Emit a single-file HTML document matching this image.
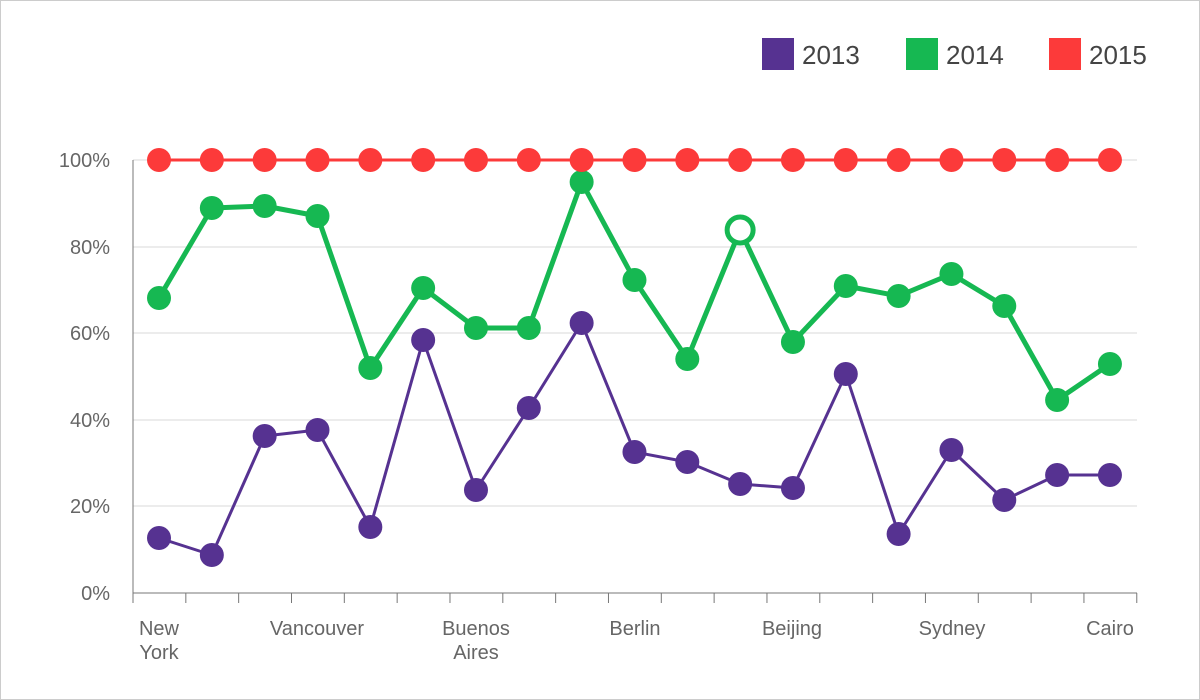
<!DOCTYPE html>
<html><head><meta charset="utf-8"><style>
html,body{margin:0;padding:0;background:#fff}
svg{display:block;font-family:"Liberation Sans",sans-serif}
</style></head><body>
<svg id="s" width="1200" height="700" xmlns="http://www.w3.org/2000/svg">
<rect x="0.5" y="0.5" width="1199" height="699" fill="#fff" stroke="#ccc"/>
<g stroke="#d9d9d9" stroke-width="1">
<line x1="133" x2="1137" y1="160" y2="160"/><line x1="133" x2="1137" y1="247" y2="247"/>
<line x1="133" x2="1137" y1="333" y2="333"/><line x1="133" x2="1137" y1="420" y2="420"/>
<line x1="133" x2="1137" y1="506" y2="506"/>
</g>
<line x1="133" x2="133" y1="160" y2="593" stroke="#777"/>
<line x1="133" x2="1137" y1="593" y2="593" stroke="#777"/>
<g id="ticks" stroke="#777"></g>
<g fill="#666" font-size="20" text-anchor="end">
<text x="110" y="167">100%</text><text x="110" y="254">80%</text><text x="110" y="340">60%</text>
<text x="110" y="427">40%</text><text x="110" y="513">20%</text><text x="110" y="600">0%</text>
</g>
<g fill="#666" font-size="20" text-anchor="middle">
<text x="159" y="635">New</text><text x="159" y="659">York</text>
<text x="317" y="635">Vancouver</text>
<text x="476" y="635">Buenos</text><text x="476" y="659">Aires</text>
<text x="635" y="635">Berlin</text>
<text x="792" y="635">Beijing</text>
<text x="952" y="635">Sydney</text>
<text x="1110" y="635">Cairo</text>
</g>
<rect x="762" y="38" width="32" height="32" fill="#563291"/>
<text x="802" y="64" font-size="26" fill="#444">2013</text>
<rect x="906" y="38" width="32" height="32" fill="#16b852"/>
<text x="946" y="64" font-size="26" fill="#444">2014</text>
<rect x="1049" y="38" width="32" height="32" fill="#fc3a3a"/>
<text x="1089" y="64" font-size="26" fill="#444">2015</text>
<g id="series"></g>
</svg>
<script>
var ns="http://www.w3.org/2000/svg";
var t=document.getElementById("ticks");
for(var k=0;k<=19;k++){var x=133+k*52.83;var l=document.createElementNS(ns,"line");l.setAttribute("x1",x);l.setAttribute("x2",x);l.setAttribute("y1",593);l.setAttribute("y2",603);t.appendChild(l);}
var g=document.getElementById("series");
var a=[538,555,436,430,527,340,490,408,323,452,462,484,488,374,534,450,500,475,475];
var b=[298,208,206,216,368,288,328,328,182,280,359,230,342,286,296,274,306,400,364];
var c=[];for(var i=0;i<19;i++)c.push(160);
function draw(d,col,w,hollow){
 var p="";for(var i=0;i<d.length;i++){p+=(i?"L":"M")+(159+i*52.83)+","+d[i];}
 var pa=document.createElementNS(ns,"path");pa.setAttribute("d",p);pa.setAttribute("fill","none");pa.setAttribute("stroke",col);pa.setAttribute("stroke-width",w);pa.setAttribute("stroke-linejoin","round");g.appendChild(pa);
 for(var i=0;i<d.length;i++){var ci=document.createElementNS(ns,"circle");ci.setAttribute("cx",159+i*52.83);ci.setAttribute("cy",d[i]);
  if(hollow===i){ci.setAttribute("r",13);ci.setAttribute("fill","#fff");ci.setAttribute("stroke",col);ci.setAttribute("stroke-width",5);}
  else{ci.setAttribute("r",12);ci.setAttribute("fill",col);}
  g.appendChild(ci);}
}
draw(a,"#563291",3,-1);
draw(b,"#16b852",5,11);
draw(c,"#fc3a3a",3,-1);
</script>
</body></html>
